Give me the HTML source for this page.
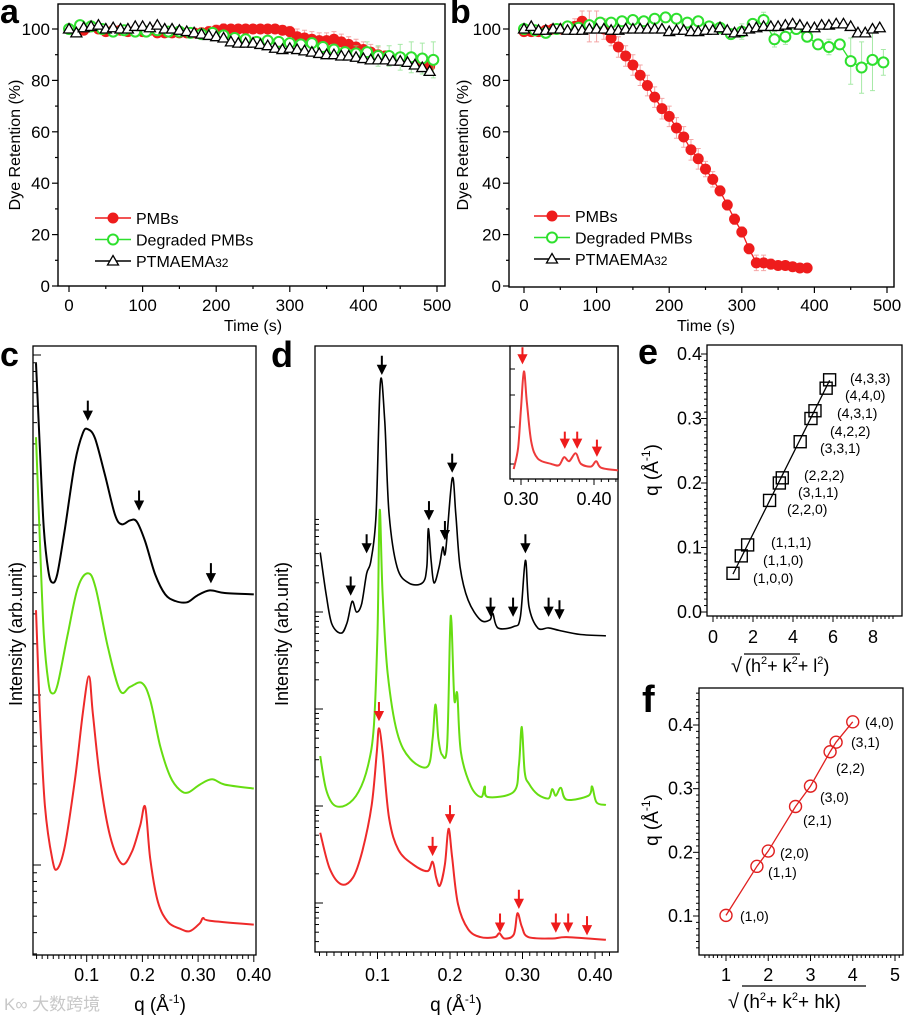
<!DOCTYPE html>
<html><head><meta charset="utf-8">
<style>
html,body{margin:0;padding:0;background:#fff;}
svg{display:block;font-family:"Liberation Sans","Noto Sans CJK SC",sans-serif;}
</style></head>
<body>
<svg id="fig" width="904" height="1019" viewBox="0 0 904 1019" xmlns="http://www.w3.org/2000/svg">
<rect x="0" y="0" width="904" height="1019" fill="#fff"/>
<g id="pa">
<text x="0" y="23" font-size="34" font-weight="bold">a</text>
<text transform="translate(20,145) rotate(-90)" font-size="16" text-anchor="middle">Dye Retention (%)</text>
<text x="253" y="331" font-size="16" text-anchor="middle">Time (s)</text>
</g>
<g id="pb">
<text x="450" y="23" font-size="34" font-weight="bold">b</text>
<text transform="translate(468,145) rotate(-90)" font-size="16" text-anchor="middle">Dye Retention (%)</text>
<text x="706" y="331" font-size="16" text-anchor="middle">Time (s)</text>
</g>
<g id="pc">
<text x="0" y="366" font-size="34" font-weight="bold">c</text>
<text transform="translate(22,634) rotate(-90)" font-size="18" text-anchor="middle">Intensity (arb.unit)</text>
<text x="160" y="1011" font-size="19" text-anchor="middle">q (Å<tspan font-size="12" dy="-8">-1</tspan><tspan dy="8">)</tspan></text>
<text x="4" y="1010" font-size="17" fill="#c8c8c8">K∞ 大数跨境</text>
</g>
<g id="pd">
<text x="271" y="367" font-size="36" font-weight="bold">d</text>
<text transform="translate(288,634) rotate(-90)" font-size="18" text-anchor="middle">Intensity (arb.unit)</text>
<text x="456" y="1011" font-size="19" text-anchor="middle">q (Å<tspan font-size="12" dy="-8">-1</tspan><tspan dy="8">)</tspan></text>
</g>
<g id="pe">
<text x="638" y="364" font-size="36" font-weight="bold">e</text>
<text transform="translate(658,470) rotate(-90)" font-size="19" text-anchor="middle">q (Å<tspan font-size="12" dy="-8">-1</tspan><tspan dy="8">)</tspan></text>
<g>
<text x="731" y="672" font-size="20">√</text>
<line x1="744" y1="654" x2="800" y2="654" stroke="#000" stroke-width="1.2"/>
<text x="745" y="672" font-size="18">(h<tspan font-size="11" dy="-8">2</tspan><tspan dy="8">+ k</tspan><tspan font-size="11" dy="-8">2</tspan><tspan dy="8">+ l</tspan><tspan font-size="11" dy="-8">2</tspan><tspan dy="8">)</tspan></text>
</g>
</g>
<g id="pf">
<text x="642" y="712" font-size="38" font-weight="bold">f</text>
<text transform="translate(658,820) rotate(-90)" font-size="19" text-anchor="middle">q (Å<tspan font-size="12" dy="-8">-1</tspan><tspan dy="8">)</tspan></text>
<g>
<text x="728" y="1008" font-size="20">√</text>
<line x1="742" y1="986" x2="866" y2="986" stroke="#000" stroke-width="1.2"/>
<text x="743" y="1008" font-size="19">(h<tspan font-size="11" dy="-8">2</tspan><tspan dy="8">+ k</tspan><tspan font-size="11" dy="-8">2</tspan><tspan dy="8">+ hk)</tspan></text>
</g>
</g>
</svg>
<script>
// ---------- DATA ----------
// panel a
const aRedT=[0,10,20,30,40,50,60,70,80,90,100,110,120,130,140,150,160,170,180,190,200,210,220,230,240,250,260,270,280,290,300,310,320,330,340,350,360,370,380,390,400,410,420,430,440,450,460,470,480,490];
const aRedV=[100,99,99.5,101,100,99,99.5,99.5,99,99.5,99,99.5,98.5,98.5,98.5,98.5,98.5,98.5,98.5,99,99.5,100,100,100,100,100,100,100,100,99.5,99,97,96.5,96,95.5,95.5,96,95,94,93,92,91,90,89.5,88,88,87.5,87,86,85.5];
const aRedE=[1,1,1,2,1,1,1,1,1,1,1,1,1,1,1,1,1,1,2,2,2,2,1,1,1,1,1,1,1,1,2,3,3,3,3,3,3,3,3,3,3,3,3,2,2,2,2,2,2,2];
const aGrnT=[0,15,30,45,60,75,90,105,120,135,150,165,180,195,210,225,240,255,270,285,300,315,330,345,360,375,390,405,420,435,450,465,480,495];
const aGrnV=[100,101.5,101,100,99,99.5,99,99,99.5,99,99,98.5,98,98.5,97.5,96.5,96,95,95.5,95,94.5,94,94.5,93,92,91,90.5,91,89.5,89.5,89,89,88.5,88];
const aGrnE=[1,1,1,1,1,1,1,1,1,1,1,1,1,1,1,1,1,1,1,1,1,1,2,2,2,2,3,4,4,4,5,6,6,7];
const aBlkT=aRedT;
const aBlkV=[100,98.5,100.5,101,101.5,100,100.5,100,100,101,101,100.5,101.5,100,100,99.5,99,98.5,98,97.5,97,96.5,95,94.5,94.5,94.5,94,93.5,92.5,92,92.5,92,91.5,91,90.5,90,90,89.5,89.5,89,88.5,88,88,88,87.5,87.5,87,86,85,83.5];
// panel b
const bRedT=[0,10,20,30,40,50,60,70,80,90,100,110,120,130,140,150,160,170,180,190,200,210,220,230,240,250,260,270,280,290,300,310,320,330,340,350,360,370,380,390];
const bRedV=[99,99,99,99.5,100,100,100,101,103,101,101,100,96.5,93,89.5,86,82,78,73.5,69,66,61.5,58,53,49.5,45.5,41.5,37,31.5,26,21,14.5,9,9,8.5,8,8,7.5,7,7];
const bRedE=[1,1,1,1,1,1,1,3,4,6,6,4,3,4,4,4,4,4,4,4,4,4,4,4,4,3,3,2,2,2,2,2,3,3,2,1,1,1,1,1];
const bGrnT=aGrnT;
const bGrnV=[100,99.5,98.5,100,101,100.5,101.5,102.5,102.5,103,103.5,103,104,104.5,104,102.5,103,101,100.5,98,99,102,103.5,96,97,100,97,94,93,94,87.5,85,88,87];
const bGrnE=[1,1,1,1,1,1,2,2,1,1,1,1,1,1,1,1,1,1,1,1,3,2,3,3,3,2,2,2,3,2,9,10,12,5];
const bBlkT=aRedT;
const bBlkV=[100,101,99.5,99.5,100,100,99.5,99.5,99.5,100,100,100,99.5,99.5,100,100,100,100,100,100,99,99.5,99.5,99,99,99.5,99.5,100.5,99.5,98.5,99,100,100.5,101,101,101,101.5,102,101.5,100.5,100.5,101.5,101.5,102,102,101,98.5,98.5,100,100.5];
// panel c (q in 1/A, intensity in arbitrary log units)
const cBlkQ=[.009,.016,.023,.031,.038,.047,.061,.079,.093,.102,.115,.133,.151,.163,.178,.19,.205,.223,.241,.259,.28,.298,.321,.348,.4];
const cBlkI=[448,383,323,291,282,288,323,373,395,398,391,363,333,326,329,328,313,288,273,268,267,272,276,274,273];
const cGrnQ=[.009,.016,.023,.031,.038,.048,.066,.084,.102,.116,.138,.16,.178,.199,.214,.232,.25,.267,.282,.303,.325,.348,.4];
const cGrnI=[392,313,243,207,198,205,243,278,289,278,233,200,203,206,193,158,135,125,123,129,133,129,126];
const cRedQ=[.009,.016,.025,.038,.047,.061,.079,.093,.104,.111,.124,.142,.163,.181,.196,.205,.214,.228,.246,.267,.285,.303,.309,.321,.4];
const cRedI=[261,183,113,73,65,83,133,183,211,183,133,90,69,78,98,112,73,40,25,20,18,24,28,26,23];
const cArrQ=[.102,.194,.323];
const cArrI=[406,338,283];
// panel d
const dBlkQ=[.021,.029,.037,.05,.058,.065,.071,.078,.085,.091,.098,.104,.11,.116,.127,.143,.162,.168,.17,.174,.178,.185,.19,.194,.203,.208,.214,.225,.242,.255,.259,.266,.288,.297,.304,.309,.321,.336,.351,.38,.415];
const dBlkI=[303,272,249,242,250,266,258,264,287,297,332,432,402,332,292,280,280,292,321,297,280,292,307,304,359,332,292,267,252,252,257,246,247,254,297,262,246,246,244,241,240];
const dGrnQ=[.021,.029,.04,.057,.074,.087,.095,.1,.103,.107,.114,.127,.145,.169,.176,.18,.184,.189,.196,.2,.202,.206,.21,.215,.229,.243,.248,.252,.288,.295,.299,.303,.309,.321,.336,.341,.346,.353,.361,.391,.396,.402,.415];
const dGrnI=[149,124,112,112,122,142,172,242,335,272,212,167,147,141,162,188,162,150,157,242,250,192,196,152,126,118,126,118,122,142,171,137,128,120,117,124,119,125,116,119,126,114,112];
const dRedQ=[.021,.034,.05,.066,.079,.092,.099,.102,.107,.116,.129,.149,.169,.176,.181,.186,.193,.198,.203,.211,.225,.242,.262,.268,.275,.288,.293,.299,.308,.341,.361,.415];
const dRedI=[91,64,52,57,77,112,152,170,152,102,78,67,62,69,57,51,67,94,72,37,18,12,12,15,11,14,30,20,12,11,12,10];
const dBlkArrQ=[.063,.085,.106,.171,.193,.203,.256,.287,.304,.336,.351];
const dBlkArrI=[272,304,439,329,314,365,256,256,304,256,254];
const dRedArrQ=[.102,.176,.2,.269,.295,.346,.363,.389];
const dRedArrI=[177,75,99,17,35,17,17,15];
// inset
const inQ=[.29,.296,.3,.304,.308,.314,.323,.341,.352,.359,.366,.375,.382,.396,.403,.41,.433];
const inI=[9,25,55,83,60,30,17,13,12,18,15,21,13,11,15,10,8];
const inArrQ=[.302,.36,.377,.404];
const inArrI=[90,26,26,20];
// panel e
const eX=[1,1.414,1.732,2.828,3.317,3.464,4.359,4.899,5.099,5.657,5.831];
const eQ=[.06,.087,.104,.173,.2,.208,.264,.3,.312,.347,.36];
const eLbl=["(1,0,0)","(1,1,0)","(1,1,1)","(2,2,0)","(3,1,1)","(2,2,2)","(3,3,1)","(4,2,2)","(4,3,1)","(4,4,0)","(4,3,3)"];
const eFit=[0.0622,-0.0035];
// panel f
const fX=[1,1.732,2,2.646,3,3.464,3.606,4];
const fQ=[.101,.178,.202,.272,.304,.358,.373,.405];
const fLbl=["(1,0)","(1,1)","(2,0)","(2,1)","(3,0)","(2,2)","(3,1)","(4,0)"];

// ---------- HELPERS ----------
const NS='http://www.w3.org/2000/svg';
function mk(tag,attrs,parent){const e=document.createElementNS(NS,tag);for(const k in attrs)e.setAttribute(k,attrs[k]);parent.appendChild(e);return e;}
function sc(d0,d1,p0,p1){return v=>p0+(v-d0)*(p1-p0)/(d1-d0);}
function crPath(pts){let d='M'+pts[0][0].toFixed(1)+','+pts[0][1].toFixed(1);
 for(let i=0;i<pts.length-1;i++){const p0=pts[Math.max(0,i-1)],p1=pts[i],p2=pts[i+1],p3=pts[Math.min(pts.length-1,i+2)];
  const c1=[p1[0]+(p2[0]-p0[0])/6,p1[1]+(p2[1]-p0[1])/6],c2=[p2[0]-(p3[0]-p1[0])/6,p2[1]-(p3[1]-p1[1])/6];
  d+=' C'+c1[0].toFixed(1)+','+c1[1].toFixed(1)+' '+c2[0].toFixed(1)+','+c2[1].toFixed(1)+' '+p2[0].toFixed(1)+','+p2[1].toFixed(1);}
 return d;}
function fmt(v,dec){return v.toFixed(dec);}

const G={a:document.getElementById('pa'),b:document.getElementById('pb'),c:document.getElementById('pc'),d:document.getElementById('pd'),e:document.getElementById('pe'),f:document.getElementById('pf')};

// ---------- PANELS a & b ----------
function timePanel(g,key,box,xs,ys,series,legend){
 let el=mk('rect',{x:box[0],y:box[1],width:box[2]-box[0],height:box[3]-box[1],fill:'none',stroke:'#000','stroke-width':1.4},g);
 
 
 for(let v=0;v<=100;v+=10){const y=ys(v);const L=v%20===0?6:3;
  el=mk('line',{x1:box[0],x2:box[0]-L,y1:y,y2:y,stroke:'#000','stroke-width':1.2},g);
  
  
  if(v%20===0){el=mk('text',{x:box[0]-8,y:y+6,'font-size':17,'text-anchor':'end'},g);el.textContent=v;
   
   }}
 for(let v=0;v<=500;v+=50){const x=xs(v);const L=v%100===0?6:3;
  el=mk('line',{x1:x,x2:x,y1:box[3],y2:box[3]+L,stroke:'#000','stroke-width':1.2},g);
  
  
  if(v%100===0){el=mk('text',{x:x,y:311,'font-size':17,'text-anchor':'middle'},g);el.textContent=v;
   
   }}
 series.forEach(s=>{
  const sg=mk('g',{},g);
  
  
  if(s.E){s.T.forEach((t,i)=>{const x=xs(t),y1=ys(s.V[i]-s.E[i]),y2=ys(s.V[i]+s.E[i]);
   el=mk('path',{d:`M${x},${y1}V${y2}M${x-2.5},${y1}h5M${x-2.5},${y2}h5`,stroke:s.ec,'stroke-width':1,fill:'none',opacity:.7},sg);
   
   });}
  el=mk('polyline',{points:s.T.map((t,i)=>xs(t)+','+ys(s.V[i])).join(' '),fill:'none',stroke:s.lc,'stroke-width':1.3},sg);
  
  
  s.T.forEach((t,i)=>{const x=xs(t),y=ys(s.V[i]);
   if(s.m==='fc'){el=mk('circle',{cx:x,cy:y,r:5.5,fill:'#ee1c1c'},sg);}
   else if(s.m==='oc'){el=mk('circle',{cx:x,cy:y,r:5,fill:'#fff',stroke:'#2ee02e','stroke-width':2},sg);}
   else {el=mk('path',{d:`M${x},${y-5.5}L${x+5.5},${y+4}L${x-5.5},${y+4}Z`,fill:'#fff',stroke:'#000','stroke-width':1.3},sg);}
   
   });
 });
 const lg=mk('g',{},g);
 
 
 const labels=['PMBs','Degraded PMBs','PTMAEMA'];
 const mks=['fc','oc','tr'],cols=['#ee1c1c','#2ee02e','#000'];
 labels.forEach((lab,i)=>{const y=legend[1]+i*21.5,x0=legend[0];
  const eg=mk('g',{},lg);
  
  
  mk('line',{x1:x0,x2:x0+36,y1:y,y2:y,stroke:cols[i],'stroke-width':1.6},eg);
  const mx=x0+18;
  if(mks[i]==='fc')mk('circle',{cx:mx,cy:y,r:5.5,fill:'#ee1c1c'},eg);
  else if(mks[i]==='oc')mk('circle',{cx:mx,cy:y,r:5,fill:'#fff',stroke:'#2ee02e','stroke-width':2},eg);
  else mk('path',{d:`M${mx},${y-5.5}L${mx+5.5},${y+4}L${mx-5.5},${y+4}Z`,fill:'#fff',stroke:'#000','stroke-width':1.3},eg);
  const t=mk('text',{x:x0+41,y:y+6,'font-size':16},eg);t.textContent=lab;
  if(i===2){const s=mk('tspan',{'font-size':12},t);s.textContent='32';}
 });
}
const yAB=sc(0,100,286,29);
timePanel(G.a,'panel-a',[58,4,445,286],sc(0,500,69,437),yAB,[
 {name:'pmbs',T:aRedT,V:aRedV,E:aRedE,ec:'#f08080',lc:'#ee1c1c',m:'fc'},
 {name:'degraded-pmbs',T:aGrnT,V:aGrnV,E:aGrnE,ec:'#80e080',lc:'#2ee02e',m:'oc'},
 {name:'ptmaema32',T:aBlkT,V:aBlkV,lc:'#000',m:'tr'}],[95,218]);
timePanel(G.b,'panel-b',[509,4,894,287],sc(0,500,524,887),yAB,[
 {name:'pmbs',T:bRedT,V:bRedV,E:bRedE,ec:'#f08080',lc:'#ee1c1c',m:'fc'},
 {name:'degraded-pmbs',T:bGrnT,V:bGrnV,E:bGrnE,ec:'#80e080',lc:'#2ee02e',m:'oc'},
 {name:'ptmaema32',T:bBlkT,V:bBlkV,lc:'#000',m:'tr'}],[534,216]);

// ---------- log-intensity panels ----------
function arrow(g,key,x,y,col,len){const el=mk('path',{d:`M${x},${y-len}V${y-6}M${x-3.5},${y-7}L${x},${y}L${x+3.5},${y-7}Z`,stroke:col,fill:col,'stroke-width':2},g);
 
 }
function logTicks(g,key,x0,top,bottom,decade0,step,dir){
 for(let k=-3;k<10;k++){const base=decade0+k*step;
  for(let m=1;m<10;m++){const y=base-Math.log10(m)*step; if(y<top+1||y>bottom-1)continue;
   const L=m===1?8:4;const el=mk('line',{x1:x0,x2:x0+dir*L,y1:y,y2:y,stroke:'#000','stroke-width':1},g);
   
   }}}
function qTicks(g,key,xs,q0,q1,yb,labels,ly,fs){
 for(let i=Math.ceil(q0*100);i<=Math.floor(q1*100);i++){const x=xs(i/100);const L=i%10===0?7:4;
  let el=mk('line',{x1:x,x2:x,y1:yb,y2:yb+L,stroke:'#000','stroke-width':1},g);
  
  }
 labels.forEach(v=>{const el=mk('text',{x:xs(v),y:ly,'font-size':fs,'text-anchor':'middle'},g);el.textContent=v.toFixed(v>=0.3&&fs<19?2:1);
  
  });}
function curve(g,key,xs,ys,Q,I,col,w){const el=mk('path',{d:crPath(Q.map((q,i)=>[xs(q),ys(I[i])])),fill:'none',stroke:col,'stroke-width':w||2,'stroke-linejoin':'round'},g);
 
 }
function frame(g,key,x0,y0,x1,y1){const el=mk('rect',{x:x0,y:y0,width:x1-x0,height:y1-y0,fill:'none',stroke:'#000','stroke-width':1.3},g);
 
 }

// panel c
const cx=sc(0,0.1,31,86.7), cy=sc(0,461,955,346);
frame(G.c,'panel-c-plot-frame',33,346,256,955);
logTicks(G.c,'panel-c',33,346,955,865,170,1);
qTicks(G.c,'panel-c',cx,0.01,0.4,955,[0.1,0.2,0.3,0.4],981,18);
curve(G.c,'panel-c-curve-pmbs',cx,cy,cRedQ,cRedI,'#ee2a2a');
curve(G.c,'panel-c-curve-degraded',cx,cy,cGrnQ,cGrnI,'#66dd11');
curve(G.c,'panel-c-curve-ptmaema',cx,cy,cBlkQ,cBlkI,'#000');
cArrQ.forEach((q,i)=>arrow(G.c,'panel-c-peak-arrow',cx(q),cy(cArrI[i]),'#000',18));

// panel d
const dx=sc(0,0.1,305,377.5), dy=sc(0,460,953,345);
frame(G.d,'panel-d-plot-frame',315,346,618,952);
logTicks(G.d,'panel-d',315,346,952,903,97,1);
qTicks(G.d,'panel-d',dx,0.02,0.42,952,[0.1,0.2,0.3,0.4],981,18);
curve(G.d,'panel-d-curve-pmbs',dx,dy,dRedQ,dRedI,'#ee2a2a');
curve(G.d,'panel-d-curve-degraded',dx,dy,dGrnQ,dGrnI,'#66dd11');
curve(G.d,'panel-d-curve-ptmaema',dx,dy,dBlkQ,dBlkI,'#000',1.6);
dBlkArrQ.forEach((q,i)=>arrow(G.d,'panel-d-black-arrow',dx(q),dy(dBlkArrI[i]),'#000',17));
dRedArrQ.forEach((q,i)=>arrow(G.d,'panel-d-red-arrow',dx(q),dy(dRedArrI[i]),'#ee1c1c',17));
// inset
const ig=mk('g',{},G.d);


mk('rect',{x:510,y:346,width:108,height:133,fill:'#fff'},ig);
const ix=sc(0.3,0.4,521,594), iy=sc(0,100,481,349);
frame(ig,'inset-frame',510,346,618,479);
[369,395,427,464].forEach(y=>{const el=mk('line',{x1:510,x2:515,y1:y,y2:y,stroke:'#000'},ig);
 
 });
for(let i=29;i<=43;i++){const x=ix(i/100);const el=mk('line',{x1:x,x2:x,y1:479,y2:479+(i%10===0?6:3),stroke:'#000'},ig);
 
 }
[0.3,0.4].forEach(v=>{const el=mk('text',{x:ix(v),y:505,'font-size':18,'text-anchor':'middle'},ig);el.textContent=v.toFixed(2);
 
 });
curve(ig,'inset-curve-pmbs',ix,iy,inQ,inI,'#ee3a3a');
inArrQ.forEach((q,i)=>arrow(ig,'inset-red-arrow',ix(q),iy(inArrI[i]),'#ee1c1c',15));

// panel e
const ex=sc(0,8,713,873), ey=sc(0,0.4,612,354);
frame(G.e,'panel-e-plot-frame',707,345,902,616);
for(let i=0;i<=40;i++){const y=ey(i/100);const L=i%10===0?6:3;const el=mk('line',{x1:707,x2:707-L,y1:y,y2:y,stroke:'#000'},G.e);
 
 
 if(i%10===0){const t=mk('text',{x:702,y:y+6,'font-size':18,'text-anchor':'end'},G.e);t.textContent=(i/100).toFixed(1);
  
  }}
for(let i=0;i<=45;i++){const x=ex(i/5);if(x>902)break;const L=i%10===0?6:3;const el=mk('line',{x1:x,x2:x,y1:616,y2:616+L,stroke:'#000'},G.e);
 
 
 if(i%10===0){const t=mk('text',{x:x,y:643,'font-size':18,'text-anchor':'middle'},G.e);t.textContent=i/5;
  
  }}
let fl=mk('line',{x1:ex(eX[0]),y1:ey(eFit[0]*eX[0]+eFit[1]),x2:ex(eX[eX.length-1]),y2:ey(eFit[0]*eX[eX.length-1]+eFit[1]),stroke:'#000','stroke-width':1.3},G.e);


eX.forEach((v,i)=>{const el=mk('rect',{x:ex(v)-6,y:ey(eQ[i])-6,width:12,height:12,fill:'none',stroke:'#000','stroke-width':1.4},G.e);
 
 });
const eLx=[753,763,771,787,798,804,820,830,837,845,850], eLy=[578,560,542,509,492,475,448,431,413,395,378];
eLbl.forEach((s,i)=>{const t=mk('text',{x:eLx[i],y:eLy[i]+5,'font-size':14},G.e);t.textContent=s;
 
 });

// panel f
const fx=sc(1,5,726,895), fy=sc(0.1,0.4,916,725);
frame(G.f,'panel-f-plot-frame',699,688,903,955);
for(let i=5;i<=45;i++){const y=fy(i/100);if(y<688)break;const L=i%10===0?6:3;const el=mk('line',{x1:699,x2:699-L,y1:y,y2:y,stroke:'#000'},G.f);
 
 
 if(i%10===0){const t=mk('text',{x:693,y:y+6,'font-size':18,'text-anchor':'end'},G.f);t.textContent=(i/100).toFixed(1);
  
  }}
for(let i=5;i<=52;i++){const x=fx(i/10);if(x<700||x>902)continue;const L=i%10===0?6:3;const el=mk('line',{x1:x,x2:x,y1:955,y2:955+L,stroke:'#000'},G.f);
 
 
 if(i%10===0){const t=mk('text',{x:x,y:981,'font-size':18,'text-anchor':'middle'},G.f);t.textContent=i/10;
  
  }}
fl=mk('polyline',{points:fX.map((v,i)=>fx(v)+','+fy(fQ[i])).join(' '),fill:'none',stroke:'#e02020','stroke-width':1.3},G.f);


fX.forEach((v,i)=>{const el=mk('circle',{cx:fx(v),cy:fy(fQ[i]),r:6,fill:'none',stroke:'#e02020','stroke-width':1.4},G.f);
 
 });
const fLx=[740,768,780,803,820,836,851,865], fLy=[916,872,853,820,797,768,742,722];
fLbl.forEach((s,i)=>{const t=mk('text',{x:fLx[i],y:fLy[i]+5,'font-size':14},G.f);t.textContent=s;
 
 });
</script>
</body></html>
